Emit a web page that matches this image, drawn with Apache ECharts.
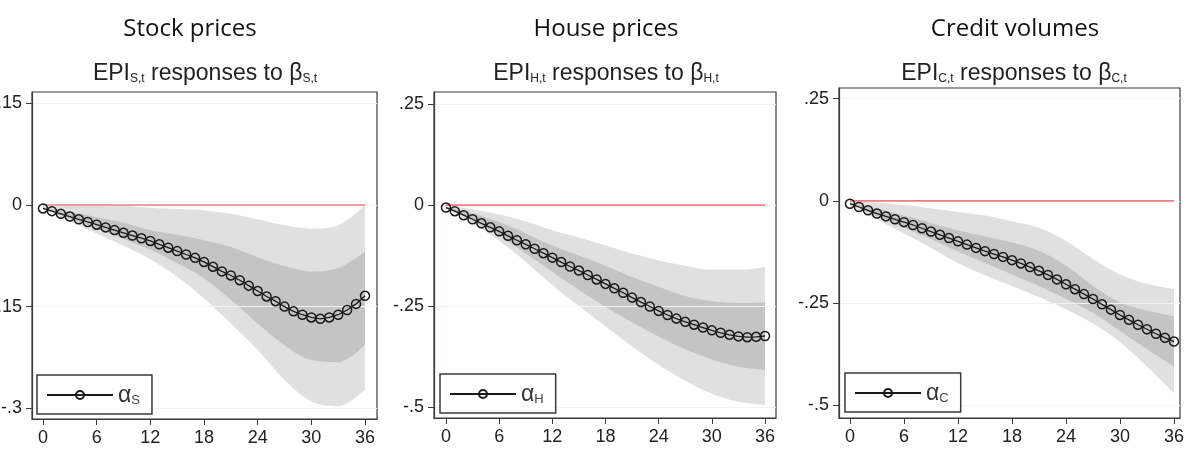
<!DOCTYPE html>
<html>
<head>
<meta charset="utf-8">
<script src="https://cdn.jsdelivr.net/npm/echarts@6/dist/echarts.min.js"></script>
<style>
  html, body { margin: 0; padding: 0; background: #fff; }
  #main { width: 1189px; height: 452px; }
</style>
</head>
<body>
<div id="main"></div>
<script>
// horizon in months
var months = [0,1,2,3,4,5,6,7,8,9,10,11,12,13,14,15,16,17,18,19,20,21,22,23,24,25,26,27,28,29,30,31,32,33,34,35,36];
// bands read every 3 months
var bandMonths = [0,3,6,9,12,15,18,21,24,27,30,33,36];

// stock prices
var stockMean = [-0.005,-0.009,-0.013,-0.017,-0.021,-0.025,-0.029,-0.033,-0.037,-0.041,-0.045,-0.049,-0.053,
  -0.058,-0.063,-0.068,-0.073,-0.078,-0.084,-0.091,-0.098,-0.104,-0.111,-0.119,-0.127,-0.135,-0.142,-0.150,
  -0.157,-0.162,-0.166,-0.168,-0.166,-0.162,-0.155,-0.146,-0.134];
var stockHi90 = [-0.002,0.001,0.001,-0.001,-0.004,-0.006,-0.008,-0.013,-0.021,-0.030,-0.035,-0.030,0.000];
var stockHi68 = [-0.004,-0.010,-0.018,-0.026,-0.037,-0.044,-0.052,-0.062,-0.077,-0.090,-0.098,-0.093,-0.069];
var stockLo68 = [-0.006,-0.020,-0.035,-0.050,-0.066,-0.086,-0.108,-0.140,-0.175,-0.207,-0.229,-0.232,-0.206];
var stockLo90 = [-0.006,-0.024,-0.042,-0.060,-0.080,-0.106,-0.138,-0.175,-0.214,-0.258,-0.290,-0.297,-0.272];

// house prices
var houseMean = [-0.006,-0.015,-0.025,-0.035,-0.045,-0.055,-0.065,-0.076,-0.087,-0.097,-0.108,-0.119,-0.130,
  -0.141,-0.152,-0.162,-0.173,-0.184,-0.195,-0.206,-0.217,-0.229,-0.240,-0.251,-0.262,-0.272,-0.281,-0.289,
  -0.296,-0.303,-0.310,-0.316,-0.321,-0.325,-0.327,-0.326,-0.324];
var houseHi90 = [-0.002,-0.010,-0.023,-0.040,-0.062,-0.080,-0.100,-0.120,-0.137,-0.150,-0.160,-0.160,-0.153];
var houseHi68 = [-0.004,-0.020,-0.042,-0.070,-0.100,-0.125,-0.150,-0.178,-0.202,-0.225,-0.238,-0.242,-0.241];
var houseLo68 = [-0.007,-0.038,-0.075,-0.120,-0.165,-0.210,-0.252,-0.290,-0.325,-0.357,-0.382,-0.400,-0.408];
var houseLo90 = [-0.008,-0.045,-0.088,-0.140,-0.198,-0.250,-0.300,-0.350,-0.395,-0.435,-0.467,-0.487,-0.495];

// credit volumes
var creditMean = [-0.007,-0.015,-0.023,-0.031,-0.038,-0.045,-0.052,-0.059,-0.067,-0.075,-0.083,-0.091,-0.099,
  -0.107,-0.115,-0.123,-0.130,-0.137,-0.145,-0.153,-0.162,-0.171,-0.181,-0.192,-0.204,-0.216,-0.228,-0.240,
  -0.253,-0.266,-0.279,-0.291,-0.303,-0.314,-0.325,-0.335,-0.344];
var creditHi90 = [-0.002,-0.004,-0.010,-0.018,-0.027,-0.036,-0.050,-0.066,-0.098,-0.142,-0.180,-0.203,-0.216];
var creditHi68 = [-0.005,-0.018,-0.036,-0.054,-0.072,-0.087,-0.102,-0.122,-0.158,-0.208,-0.248,-0.268,-0.282];
var creditLo68 = [-0.009,-0.037,-0.065,-0.094,-0.124,-0.152,-0.180,-0.208,-0.240,-0.274,-0.318,-0.362,-0.405];
var creditLo90 = [-0.010,-0.045,-0.080,-0.115,-0.152,-0.182,-0.208,-0.235,-0.265,-0.300,-0.345,-0.405,-0.470];

var xTicks = [0,6,12,18,24,30,36];
var stockTicks = [-0.3,-0.15,0,0.15];
var otherTicks = [-0.5,-0.25,0,0.25];

var headings = ['Stock prices','House prices','Credit volumes'];
var subs = ['S','H','C'];

var panels = [
  {mean: stockMean, hi90: stockHi90, hi68: stockHi68, lo68: stockLo68, lo90: stockLo90, ticks: stockTicks,
   grid: {left: 32, top: 92, width: 345, height: 327}, x: [-1.23, 37.34], y: [-0.316, 0.167],
   legend: {left: 37, top: 375}, hx: 190, sx: 205},
  {mean: houseMean, hi90: houseHi90, hi68: houseHi68, lo68: houseLo68, lo90: houseLo90, ticks: otherTicks,
   grid: {left: 434, top: 92, width: 342, height: 326}, x: [-1.35, 37.24], y: [-0.527, 0.28],
   legend: {left: 440, top: 374}, hx: 606, sx: 606},
  {mean: creditMean, hi90: creditHi90, hi68: creditHi68, lo68: creditLo68, lo90: creditLo90, ticks: otherTicks,
   grid: {left: 839, top: 88, width: 341, height: 330}, x: [-1.22, 36.67], y: [-0.531, 0.276],
   legend: {left: 845, top: 373}, hx: 1015, sx: 1014}
];

function pairs(xs, ys) {
  return xs.map(function (x, i) { return [x, ys[i]]; });
}
function tickText(v) {
  if (v === 0) return '0';
  var s = String(Math.abs(v)).replace(/^0/, '');
  return (v < 0 ? '-' : '') + s;
}

var lightGrey = '#e0e0e0';
var darkGrey = '#c4c4c4';
var frame = '#3a3a3a';

var grids = [], xAxes = [], yAxes = [], series = [], legends = [], texts = [];

panels.forEach(function (p, i) {
  grids.push(Object.assign({show: true, borderColor: frame, borderWidth: 1.2, backgroundColor: 'transparent',
    outerBoundsMode: 'none', containLabel: false}, p.grid));

  xAxes.push({
    type: 'value', gridIndex: i, min: p.x[0], max: p.x[1],
    axisLine: {show: true, onZero: false, lineStyle: {color: frame, width: 1.2}},
    axisTick: {show: true, length: 6, customValues: xTicks, lineStyle: {color: frame}},
    axisLabel: {customValues: xTicks, margin: 10, color: '#222', fontSize: 18, fontFamily: 'Liberation Sans'},
    splitLine: {show: false}
  });
  yAxes.push({
    type: 'value', gridIndex: i, min: p.y[0], max: p.y[1],
    axisLine: {show: true, onZero: false, lineStyle: {color: frame, width: 1.2}},
    axisTick: {show: true, length: 6, customValues: p.ticks, lineStyle: {color: frame}},
    axisLabel: {customValues: p.ticks, margin: 10, color: '#222', fontSize: 18, fontFamily: 'Liberation Sans',
      formatter: tickText},
    splitLine: {show: true, lineStyle: {color: '#f3f3f3', width: 1}}
  });

  // bands: each bound filled down to the axis bottom, painted in order so the layers leave the two bands
  var layers = [[p.hi90, lightGrey], [p.hi68, darkGrey], [p.lo68, lightGrey], [p.lo90, '#ffffff']];
  layers.forEach(function (l, k) {
    series.push({
      type: 'line', xAxisIndex: i, yAxisIndex: i, data: pairs(bandMonths, l[0]),
      smooth: 0.35, symbol: 'none', silent: true,
      lineStyle: {width: 0, opacity: 0},
      areaStyle: {color: l[1], opacity: 1, origin: 'start'},
      z: -4 + k
    });
  });

  // zero line
  series.push({
    type: 'line', xAxisIndex: i, yAxisIndex: i, data: [[0, 0], [36, 0]], symbol: 'none', silent: true,
    lineStyle: {color: '#ef7f7f', width: 1.6}, z: 3
  });

  var name = '\u03b1' + subs[i];
  series.push({
    type: 'line', name: name, xAxisIndex: i, yAxisIndex: i, data: pairs(months, p.mean),
    symbol: 'circle', symbolSize: 9, showSymbol: true,
    itemStyle: {color: 'rgba(0,0,0,0)', borderColor: '#1a1a1a', borderWidth: 1.5},
    lineStyle: {color: '#1a1a1a', width: 1.3}, z: 4, emphasis: {disabled: true}
  });

  legends.push({
    data: [name], left: p.legend.left, top: p.legend.top, orient: 'horizontal',
    backgroundColor: '#fff', borderColor: frame, borderWidth: 1.5, borderRadius: 0,
    padding: [9, 12, 7, 9], itemWidth: 66, itemHeight: 10, itemGap: 0, selectedMode: false,
    formatter: function (n) { return '{a|\u03b1}{s|' + n.slice(1) + '}'; },
    textStyle: {
      rich: {
        a: {fontSize: 23, fontFamily: 'Liberation Sans', color: '#333', lineHeight: 24, verticalAlign: 'bottom'},
        s: {fontSize: 13, fontFamily: 'Liberation Sans', color: '#444', lineHeight: 14, verticalAlign: 'bottom'}
      }
    }
  });

  texts.push({
    type: 'text', x: p.hx, y: 29, silent: true,
    style: {text: headings[i], align: 'center', verticalAlign: 'middle', fill: '#111',
      fontSize: 24, fontFamily: 'Open Sans'}
  });
  var sb = subs[i] + ',t';
  texts.push({
    type: 'text', x: p.sx, y: 72, silent: true,
    style: {
      text: '{n|EPI}{s|' + sb + '}{n| responses to \u03b2}{s|' + sb + '}',
      align: 'center', verticalAlign: 'middle',
      rich: {
        n: {fontSize: 23, fontFamily: 'Liberation Sans', fill: '#222', lineHeight: 26, verticalAlign: 'bottom'},
        s: {fontSize: 12, fontFamily: 'Liberation Sans', fill: '#222', lineHeight: 16, verticalAlign: 'bottom'}
      }
    }
  });
});

var chart = echarts.init(document.getElementById('main'), null, {renderer: 'canvas'});
chart.setOption({
  backgroundColor: '#fff',
  animation: false,
  grid: grids,
  xAxis: xAxes,
  yAxis: yAxes,
  legend: legends,
  series: series,
  graphic: texts
});
</script>
</body>
</html>
